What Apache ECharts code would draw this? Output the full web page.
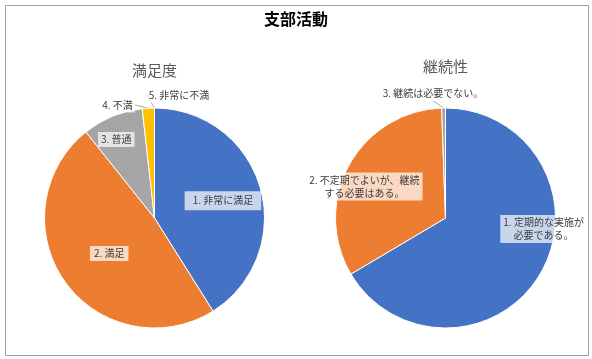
<!DOCTYPE html>
<html>
<head>
<meta charset="utf-8">
<script src="https://cdn.jsdelivr.net/npm/echarts@6/dist/echarts.min.js"></script>
<style>
  html, body { margin: 0; padding: 0; background: #fff; }
  #chart { width: 592px; height: 359px; }
</style>
</head>
<body>
<div id="chart"></div>
<script>
const chartTitle = '支部活動'
const satisfactionTitle = '満足度'
const satisfactionNames = ['1. 非常に満足', '2. 満足', '3. 普通', '4. 不満', '5. 非常に不満']
const satisfactionValues = [23, 27, 5, 1, 0]
const continuityTitle = '継続性'
const continuityNames = ['1. 定期的な実施が\n必要である。', '2. 不定期でよいが、継続\nする必要はある。', '3. 継続は必要でない。']
const continuityValues = [119, 59, 1]

const colors = ['#4472C4', '#ED7D31', '#A5A5A5', '#FFC000', '#5B9BD5']
const font = '"Noto Sans CJK JP", "Noto Sans", sans-serif'
const R = 110

// label tweaks (Excel "best fit" puts labels a bit differently than echarts)
const leftPad = [[3, 8], [1, 4], [1, 3], [1, 2], [1, 2]]
const leftOutside = [3, 4]
const leftShift = [[12.7, -1.3], [2, 2], [-16, -25], [-30.4, 4.8], [24.5, -5]]
const rightPad = [[1, 3], [1, 3], [1, 2]]
const rightOutside = [2]
const rightShift = [[47.7, -17.7], [-30.2, -3.6], [-10.4, -7]]

function buildData(names, values, pads, outside) {
  return names.map((n, i) => {
    const item = { name: n, value: values[i], label: { padding: pads[i] } }
    if (outside.indexOf(i) >= 0) {
      item.label.position = 'outside'
      item.labelLine = { show: true }
    }
    return item
  })
}

function makeLayout(outside, shift) {
  return function (p) {
    const s = shift[p.dataIndex]
    let cx, cy
    if (outside.indexOf(p.dataIndex) >= 0 && p.labelLinePoints) {
      const end = p.labelLinePoints[p.labelLinePoints.length - 1]
      cx = end[0]
      cy = end[1]
    } else {
      cx = p.labelRect.x + p.labelRect.width / 2
      cy = p.labelRect.y + p.labelRect.height / 2
    }
    return { x: cx + s[0], y: cy + s[1], align: 'center', verticalAlign: 'middle' }
  }
}

function pieSeries(name, center, data, layoutFn) {
  return {
    name: name,
    type: 'pie',
    radius: R,
    center: center,
    startAngle: 90,
    clockwise: true,
    avoidLabelOverlap: false,
    animation: false,
    itemStyle: { borderColor: '#fff', borderWidth: 1 },
    label: {
      show: true,
      position: 'inside',
      formatter: '{b}',
      color: '#404040',
      fontFamily: font,
      fontSize: 10,
      lineHeight: 13,
      backgroundColor: 'rgba(255,255,255,0.7)'
    },
    labelLine: {
      show: false,
      length: 8,
      length2: 0,
      lineStyle: { color: '#a6a6a6', width: 1 }
    },
    emphasis: { disabled: true },
    labelLayout: layoutFn,
    data: data
  }
}

const chart = echarts.init(document.getElementById('chart'))
chart.setOption({
  color: colors,
  animation: false,
  title: [
    {
      text: chartTitle,
      left: 296,
      top: 11,
      textAlign: 'center',
      padding: 0,
      textStyle: { fontFamily: font, fontSize: 16, fontWeight: 'bold', color: '#000' }
    },
    {
      text: satisfactionTitle,
      left: 154.5,
      top: 63,
      textAlign: 'center',
      padding: 0,
      textStyle: { fontFamily: font, fontSize: 15, fontWeight: 'normal', color: '#595959' }
    },
    {
      text: continuityTitle,
      left: 445.5,
      top: 59,
      textAlign: 'center',
      padding: 0,
      textStyle: { fontFamily: font, fontSize: 15, fontWeight: 'normal', color: '#595959' }
    }
  ],
  graphic: [
    {
      type: 'rect',
      shape: { x: 5.5, y: 5.5, width: 583, height: 350 },
      style: { fill: 'none', stroke: '#a0a0a0', lineWidth: 1 },
      silent: true
    }
  ],
  series: [
    pieSeries(satisfactionTitle, [154.5, 218],
      buildData(satisfactionNames, satisfactionValues, leftPad, leftOutside),
      makeLayout(leftOutside, leftShift)),
    pieSeries(continuityTitle, [445.5, 218],
      buildData(continuityNames, continuityValues, rightPad, rightOutside),
      makeLayout(rightOutside, rightShift))
  ]
})
</script>
</body>
</html>
